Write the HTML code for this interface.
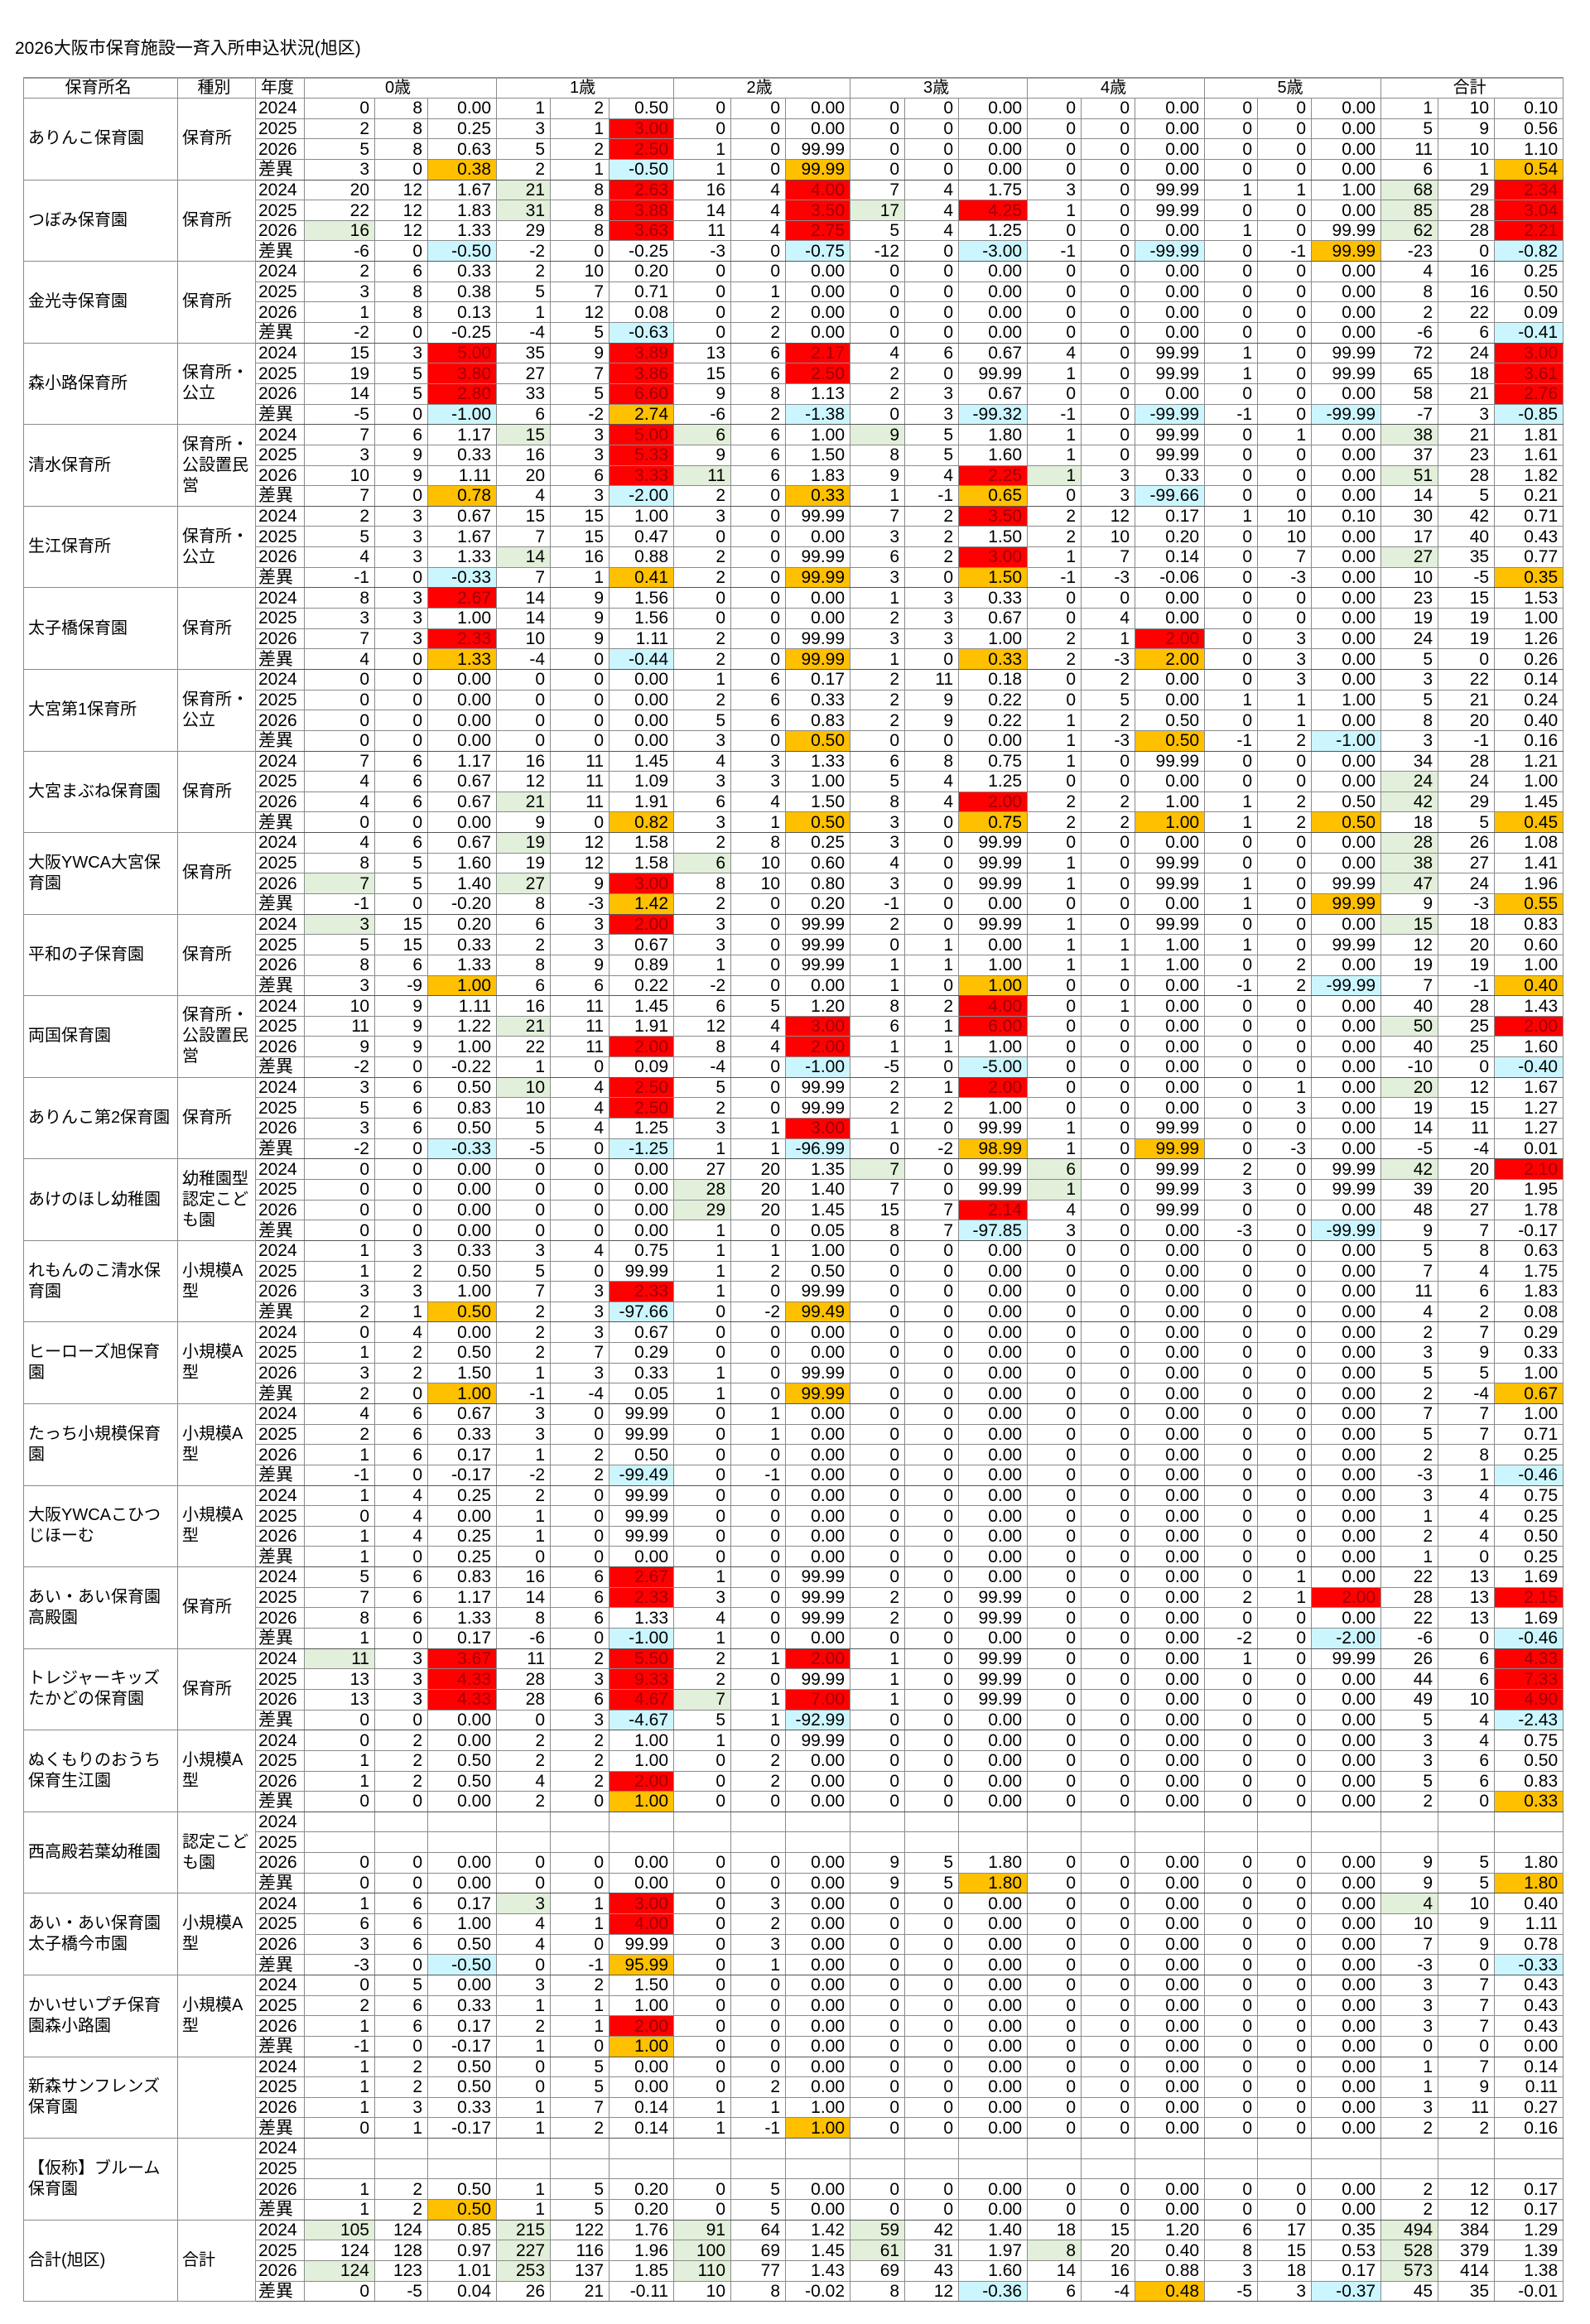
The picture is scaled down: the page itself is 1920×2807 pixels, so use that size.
<!DOCTYPE html>
<html><head><meta charset="utf-8">
<style>
html,body{margin:0;padding:0;background:#fff;}
body{width:1920px;height:2807px;position:relative;overflow:hidden;font-family:"Liberation Sans Narrow","Liberation Sans","Noto Sans CJK JP",sans-serif;}
.title{position:absolute;left:18px;top:42px;font-size:21px;font-family:"Liberation Sans","Noto Sans CJK JP",sans-serif;color:#000;}
table{position:absolute;left:28px;top:93px;border-collapse:collapse;table-layout:fixed;width:1859px;}
td{border:1px solid #8a8a8a;padding:0 6px 0 0;text-align:right;font-size:21px;line-height:21px;height:23.65px;white-space:nowrap;overflow:hidden;color:#000;}
tr.h td{text-align:center;height:23px;font-family:"Liberation Sans","Noto Sans CJK JP",sans-serif;font-size:20px;border-top:2px solid #999;}
td.n{text-align:left;padding-left:5px;white-space:normal;font-family:"Liberation Sans","Noto Sans CJK JP",sans-serif;font-size:20px;line-height:25px;vertical-align:middle;}
td.k{text-align:left;padding-left:5px;padding-right:8px;white-space:normal;font-family:"Liberation Sans","Noto Sans CJK JP",sans-serif;font-size:20px;line-height:25px;vertical-align:middle;}
td.yr{text-align:left;padding-left:3px;}
tr.e td{border-bottom:1px solid #555;}
.r{background:#ff0000;color:#9c0006;}
.y{background:#ffc000;}
.b{background:#ccf6ff;}
.g{background:#e2efda;}
</style></head><body>
<div class="title">2026大阪市保育施設一斉入所申込状況(旭区)</div>
<table>
<colgroup>
<col style="width:186px"><col style="width:94px"><col style="width:59px">
<col style="width:85px"><col style="width:64px"><col style="width:83px">
<col style="width:65px"><col style="width:71px"><col style="width:78px">
<col style="width:69px"><col style="width:66px"><col style="width:78px">
<col style="width:66px"><col style="width:65px"><col style="width:83px">
<col style="width:65px"><col style="width:65px"><col style="width:84px">
<col style="width:64px"><col style="width:65px"><col style="width:84px">
<col style="width:69px"><col style="width:68px"><col style="width:83px">
</colgroup>
<tr class="h"><td>保育所名</td><td>種別</td><td>年度</td><td colspan="3">0歳</td><td colspan="3">1歳</td><td colspan="3">2歳</td><td colspan="3">3歳</td><td colspan="3">4歳</td><td colspan="3">5歳</td><td colspan="3">合計</td></tr>

<tr><td class="n" rowspan="4">ありんこ保育園</td><td class="k" rowspan="4">保育所</td><td class="yr">2024</td><td>0</td><td>8</td><td>0.00</td><td>1</td><td>2</td><td>0.50</td><td>0</td><td>0</td><td>0.00</td><td>0</td><td>0</td><td>0.00</td><td>0</td><td>0</td><td>0.00</td><td>0</td><td>0</td><td>0.00</td><td>1</td><td>10</td><td>0.10</td></tr>
<tr><td class="yr">2025</td><td>2</td><td>8</td><td>0.25</td><td>3</td><td>1</td><td class="r">3.00</td><td>0</td><td>0</td><td>0.00</td><td>0</td><td>0</td><td>0.00</td><td>0</td><td>0</td><td>0.00</td><td>0</td><td>0</td><td>0.00</td><td>5</td><td>9</td><td>0.56</td></tr>
<tr><td class="yr">2026</td><td>5</td><td>8</td><td>0.63</td><td>5</td><td>2</td><td class="r">2.50</td><td>1</td><td>0</td><td>99.99</td><td>0</td><td>0</td><td>0.00</td><td>0</td><td>0</td><td>0.00</td><td>0</td><td>0</td><td>0.00</td><td>11</td><td>10</td><td>1.10</td></tr>
<tr class="e"><td class="yr">差異</td><td>3</td><td>0</td><td class="y">0.38</td><td>2</td><td>1</td><td class="b">-0.50</td><td>1</td><td>0</td><td class="y">99.99</td><td>0</td><td>0</td><td>0.00</td><td>0</td><td>0</td><td>0.00</td><td>0</td><td>0</td><td>0.00</td><td>6</td><td>1</td><td class="y">0.54</td></tr>

<tr><td class="n" rowspan="4">つぼみ保育園</td><td class="k" rowspan="4">保育所</td><td class="yr">2024</td><td>20</td><td>12</td><td>1.67</td><td class="g">21</td><td>8</td><td class="r">2.63</td><td>16</td><td>4</td><td class="r">4.00</td><td>7</td><td>4</td><td>1.75</td><td>3</td><td>0</td><td>99.99</td><td>1</td><td>1</td><td>1.00</td><td class="g">68</td><td>29</td><td class="r">2.34</td></tr>
<tr><td class="yr">2025</td><td>22</td><td>12</td><td>1.83</td><td class="g">31</td><td>8</td><td class="r">3.88</td><td>14</td><td>4</td><td class="r">3.50</td><td class="g">17</td><td>4</td><td class="r">4.25</td><td>1</td><td>0</td><td>99.99</td><td>0</td><td>0</td><td>0.00</td><td class="g">85</td><td>28</td><td class="r">3.04</td></tr>
<tr><td class="yr">2026</td><td class="g">16</td><td>12</td><td>1.33</td><td>29</td><td>8</td><td class="r">3.63</td><td>11</td><td>4</td><td class="r">2.75</td><td>5</td><td>4</td><td>1.25</td><td>0</td><td>0</td><td>0.00</td><td>1</td><td>0</td><td>99.99</td><td class="g">62</td><td>28</td><td class="r">2.21</td></tr>
<tr class="e"><td class="yr">差異</td><td>-6</td><td>0</td><td class="b">-0.50</td><td>-2</td><td>0</td><td>-0.25</td><td>-3</td><td>0</td><td class="b">-0.75</td><td>-12</td><td>0</td><td class="b">-3.00</td><td>-1</td><td>0</td><td class="b">-99.99</td><td>0</td><td>-1</td><td class="y">99.99</td><td>-23</td><td>0</td><td class="b">-0.82</td></tr>

<tr><td class="n" rowspan="4">金光寺保育園</td><td class="k" rowspan="4">保育所</td><td class="yr">2024</td><td>2</td><td>6</td><td>0.33</td><td>2</td><td>10</td><td>0.20</td><td>0</td><td>0</td><td>0.00</td><td>0</td><td>0</td><td>0.00</td><td>0</td><td>0</td><td>0.00</td><td>0</td><td>0</td><td>0.00</td><td>4</td><td>16</td><td>0.25</td></tr>
<tr><td class="yr">2025</td><td>3</td><td>8</td><td>0.38</td><td>5</td><td>7</td><td>0.71</td><td>0</td><td>1</td><td>0.00</td><td>0</td><td>0</td><td>0.00</td><td>0</td><td>0</td><td>0.00</td><td>0</td><td>0</td><td>0.00</td><td>8</td><td>16</td><td>0.50</td></tr>
<tr><td class="yr">2026</td><td>1</td><td>8</td><td>0.13</td><td>1</td><td>12</td><td>0.08</td><td>0</td><td>2</td><td>0.00</td><td>0</td><td>0</td><td>0.00</td><td>0</td><td>0</td><td>0.00</td><td>0</td><td>0</td><td>0.00</td><td>2</td><td>22</td><td>0.09</td></tr>
<tr class="e"><td class="yr">差異</td><td>-2</td><td>0</td><td>-0.25</td><td>-4</td><td>5</td><td class="b">-0.63</td><td>0</td><td>2</td><td>0.00</td><td>0</td><td>0</td><td>0.00</td><td>0</td><td>0</td><td>0.00</td><td>0</td><td>0</td><td>0.00</td><td>-6</td><td>6</td><td class="b">-0.41</td></tr>

<tr><td class="n" rowspan="4">森小路保育所</td><td class="k" rowspan="4">保育所・公立</td><td class="yr">2024</td><td>15</td><td>3</td><td class="r">5.00</td><td>35</td><td>9</td><td class="r">3.89</td><td>13</td><td>6</td><td class="r">2.17</td><td>4</td><td>6</td><td>0.67</td><td>4</td><td>0</td><td>99.99</td><td>1</td><td>0</td><td>99.99</td><td>72</td><td>24</td><td class="r">3.00</td></tr>
<tr><td class="yr">2025</td><td>19</td><td>5</td><td class="r">3.80</td><td>27</td><td>7</td><td class="r">3.86</td><td>15</td><td>6</td><td class="r">2.50</td><td>2</td><td>0</td><td>99.99</td><td>1</td><td>0</td><td>99.99</td><td>1</td><td>0</td><td>99.99</td><td>65</td><td>18</td><td class="r">3.61</td></tr>
<tr><td class="yr">2026</td><td>14</td><td>5</td><td class="r">2.80</td><td>33</td><td>5</td><td class="r">6.60</td><td>9</td><td>8</td><td>1.13</td><td>2</td><td>3</td><td>0.67</td><td>0</td><td>0</td><td>0.00</td><td>0</td><td>0</td><td>0.00</td><td>58</td><td>21</td><td class="r">2.76</td></tr>
<tr class="e"><td class="yr">差異</td><td>-5</td><td>0</td><td class="b">-1.00</td><td>6</td><td>-2</td><td class="y">2.74</td><td>-6</td><td>2</td><td class="b">-1.38</td><td>0</td><td>3</td><td class="b">-99.32</td><td>-1</td><td>0</td><td class="b">-99.99</td><td>-1</td><td>0</td><td class="b">-99.99</td><td>-7</td><td>3</td><td class="b">-0.85</td></tr>

<tr><td class="n" rowspan="4">清水保育所</td><td class="k" rowspan="4">保育所・公設置民営</td><td class="yr">2024</td><td>7</td><td>6</td><td>1.17</td><td class="g">15</td><td>3</td><td class="r">5.00</td><td class="g">6</td><td>6</td><td>1.00</td><td class="g">9</td><td>5</td><td>1.80</td><td>1</td><td>0</td><td>99.99</td><td>0</td><td>1</td><td>0.00</td><td class="g">38</td><td>21</td><td>1.81</td></tr>
<tr><td class="yr">2025</td><td>3</td><td>9</td><td>0.33</td><td>16</td><td>3</td><td class="r">5.33</td><td>9</td><td>6</td><td>1.50</td><td>8</td><td>5</td><td>1.60</td><td>1</td><td>0</td><td>99.99</td><td>0</td><td>0</td><td>0.00</td><td>37</td><td>23</td><td>1.61</td></tr>
<tr><td class="yr">2026</td><td>10</td><td>9</td><td>1.11</td><td>20</td><td>6</td><td class="r">3.33</td><td class="g">11</td><td>6</td><td>1.83</td><td>9</td><td>4</td><td class="r">2.25</td><td class="g">1</td><td>3</td><td>0.33</td><td>0</td><td>0</td><td>0.00</td><td class="g">51</td><td>28</td><td>1.82</td></tr>
<tr class="e"><td class="yr">差異</td><td>7</td><td>0</td><td class="y">0.78</td><td>4</td><td>3</td><td class="b">-2.00</td><td>2</td><td>0</td><td class="y">0.33</td><td>1</td><td>-1</td><td class="y">0.65</td><td>0</td><td>3</td><td class="b">-99.66</td><td>0</td><td>0</td><td>0.00</td><td>14</td><td>5</td><td>0.21</td></tr>

<tr><td class="n" rowspan="4">生江保育所</td><td class="k" rowspan="4">保育所・公立</td><td class="yr">2024</td><td>2</td><td>3</td><td>0.67</td><td>15</td><td>15</td><td>1.00</td><td>3</td><td>0</td><td>99.99</td><td>7</td><td>2</td><td class="r">3.50</td><td>2</td><td>12</td><td>0.17</td><td>1</td><td>10</td><td>0.10</td><td>30</td><td>42</td><td>0.71</td></tr>
<tr><td class="yr">2025</td><td>5</td><td>3</td><td>1.67</td><td>7</td><td>15</td><td>0.47</td><td>0</td><td>0</td><td>0.00</td><td>3</td><td>2</td><td>1.50</td><td>2</td><td>10</td><td>0.20</td><td>0</td><td>10</td><td>0.00</td><td>17</td><td>40</td><td>0.43</td></tr>
<tr><td class="yr">2026</td><td>4</td><td>3</td><td>1.33</td><td class="g">14</td><td>16</td><td>0.88</td><td>2</td><td>0</td><td>99.99</td><td>6</td><td>2</td><td class="r">3.00</td><td>1</td><td>7</td><td>0.14</td><td>0</td><td>7</td><td>0.00</td><td class="g">27</td><td>35</td><td>0.77</td></tr>
<tr class="e"><td class="yr">差異</td><td>-1</td><td>0</td><td class="b">-0.33</td><td>7</td><td>1</td><td class="y">0.41</td><td>2</td><td>0</td><td class="y">99.99</td><td>3</td><td>0</td><td class="y">1.50</td><td>-1</td><td>-3</td><td>-0.06</td><td>0</td><td>-3</td><td>0.00</td><td>10</td><td>-5</td><td class="y">0.35</td></tr>

<tr><td class="n" rowspan="4">太子橋保育園</td><td class="k" rowspan="4">保育所</td><td class="yr">2024</td><td>8</td><td>3</td><td class="r">2.67</td><td>14</td><td>9</td><td>1.56</td><td>0</td><td>0</td><td>0.00</td><td>1</td><td>3</td><td>0.33</td><td>0</td><td>0</td><td>0.00</td><td>0</td><td>0</td><td>0.00</td><td>23</td><td>15</td><td>1.53</td></tr>
<tr><td class="yr">2025</td><td>3</td><td>3</td><td>1.00</td><td>14</td><td>9</td><td>1.56</td><td>0</td><td>0</td><td>0.00</td><td>2</td><td>3</td><td>0.67</td><td>0</td><td>4</td><td>0.00</td><td>0</td><td>0</td><td>0.00</td><td>19</td><td>19</td><td>1.00</td></tr>
<tr><td class="yr">2026</td><td>7</td><td>3</td><td class="r">2.33</td><td>10</td><td>9</td><td>1.11</td><td>2</td><td>0</td><td>99.99</td><td>3</td><td>3</td><td>1.00</td><td>2</td><td>1</td><td class="r">2.00</td><td>0</td><td>3</td><td>0.00</td><td>24</td><td>19</td><td>1.26</td></tr>
<tr class="e"><td class="yr">差異</td><td>4</td><td>0</td><td class="y">1.33</td><td>-4</td><td>0</td><td class="b">-0.44</td><td>2</td><td>0</td><td class="y">99.99</td><td>1</td><td>0</td><td class="y">0.33</td><td>2</td><td>-3</td><td class="y">2.00</td><td>0</td><td>3</td><td>0.00</td><td>5</td><td>0</td><td>0.26</td></tr>

<tr><td class="n" rowspan="4">大宮第1保育所</td><td class="k" rowspan="4">保育所・公立</td><td class="yr">2024</td><td>0</td><td>0</td><td>0.00</td><td>0</td><td>0</td><td>0.00</td><td>1</td><td>6</td><td>0.17</td><td>2</td><td>11</td><td>0.18</td><td>0</td><td>2</td><td>0.00</td><td>0</td><td>3</td><td>0.00</td><td>3</td><td>22</td><td>0.14</td></tr>
<tr><td class="yr">2025</td><td>0</td><td>0</td><td>0.00</td><td>0</td><td>0</td><td>0.00</td><td>2</td><td>6</td><td>0.33</td><td>2</td><td>9</td><td>0.22</td><td>0</td><td>5</td><td>0.00</td><td>1</td><td>1</td><td>1.00</td><td>5</td><td>21</td><td>0.24</td></tr>
<tr><td class="yr">2026</td><td>0</td><td>0</td><td>0.00</td><td>0</td><td>0</td><td>0.00</td><td>5</td><td>6</td><td>0.83</td><td>2</td><td>9</td><td>0.22</td><td>1</td><td>2</td><td>0.50</td><td>0</td><td>1</td><td>0.00</td><td>8</td><td>20</td><td>0.40</td></tr>
<tr class="e"><td class="yr">差異</td><td>0</td><td>0</td><td>0.00</td><td>0</td><td>0</td><td>0.00</td><td>3</td><td>0</td><td class="y">0.50</td><td>0</td><td>0</td><td>0.00</td><td>1</td><td>-3</td><td class="y">0.50</td><td>-1</td><td>2</td><td class="b">-1.00</td><td>3</td><td>-1</td><td>0.16</td></tr>

<tr><td class="n" rowspan="4">大宮まぶね保育園</td><td class="k" rowspan="4">保育所</td><td class="yr">2024</td><td>7</td><td>6</td><td>1.17</td><td>16</td><td>11</td><td>1.45</td><td>4</td><td>3</td><td>1.33</td><td>6</td><td>8</td><td>0.75</td><td>1</td><td>0</td><td>99.99</td><td>0</td><td>0</td><td>0.00</td><td>34</td><td>28</td><td>1.21</td></tr>
<tr><td class="yr">2025</td><td>4</td><td>6</td><td>0.67</td><td>12</td><td>11</td><td>1.09</td><td>3</td><td>3</td><td>1.00</td><td>5</td><td>4</td><td>1.25</td><td>0</td><td>0</td><td>0.00</td><td>0</td><td>0</td><td>0.00</td><td class="g">24</td><td>24</td><td>1.00</td></tr>
<tr><td class="yr">2026</td><td>4</td><td>6</td><td>0.67</td><td class="g">21</td><td>11</td><td>1.91</td><td>6</td><td>4</td><td>1.50</td><td>8</td><td>4</td><td class="r">2.00</td><td>2</td><td>2</td><td>1.00</td><td>1</td><td>2</td><td>0.50</td><td class="g">42</td><td>29</td><td>1.45</td></tr>
<tr class="e"><td class="yr">差異</td><td>0</td><td>0</td><td>0.00</td><td>9</td><td>0</td><td class="y">0.82</td><td>3</td><td>1</td><td class="y">0.50</td><td>3</td><td>0</td><td class="y">0.75</td><td>2</td><td>2</td><td class="y">1.00</td><td>1</td><td>2</td><td class="y">0.50</td><td>18</td><td>5</td><td class="y">0.45</td></tr>

<tr><td class="n" rowspan="4">大阪YWCA大宮保育園</td><td class="k" rowspan="4">保育所</td><td class="yr">2024</td><td>4</td><td>6</td><td>0.67</td><td class="g">19</td><td>12</td><td>1.58</td><td>2</td><td>8</td><td>0.25</td><td>3</td><td>0</td><td>99.99</td><td>0</td><td>0</td><td>0.00</td><td>0</td><td>0</td><td>0.00</td><td class="g">28</td><td>26</td><td>1.08</td></tr>
<tr><td class="yr">2025</td><td>8</td><td>5</td><td>1.60</td><td>19</td><td>12</td><td>1.58</td><td class="g">6</td><td>10</td><td>0.60</td><td>4</td><td>0</td><td>99.99</td><td>1</td><td>0</td><td>99.99</td><td>0</td><td>0</td><td>0.00</td><td class="g">38</td><td>27</td><td>1.41</td></tr>
<tr><td class="yr">2026</td><td class="g">7</td><td>5</td><td>1.40</td><td class="g">27</td><td>9</td><td class="r">3.00</td><td>8</td><td>10</td><td>0.80</td><td>3</td><td>0</td><td>99.99</td><td>1</td><td>0</td><td>99.99</td><td>1</td><td>0</td><td>99.99</td><td class="g">47</td><td>24</td><td>1.96</td></tr>
<tr class="e"><td class="yr">差異</td><td>-1</td><td>0</td><td>-0.20</td><td>8</td><td>-3</td><td class="y">1.42</td><td>2</td><td>0</td><td>0.20</td><td>-1</td><td>0</td><td>0.00</td><td>0</td><td>0</td><td>0.00</td><td>1</td><td>0</td><td class="y">99.99</td><td>9</td><td>-3</td><td class="y">0.55</td></tr>

<tr><td class="n" rowspan="4">平和の子保育園</td><td class="k" rowspan="4">保育所</td><td class="yr">2024</td><td class="g">3</td><td>15</td><td>0.20</td><td>6</td><td>3</td><td class="r">2.00</td><td>3</td><td>0</td><td>99.99</td><td>2</td><td>0</td><td>99.99</td><td>1</td><td>0</td><td>99.99</td><td>0</td><td>0</td><td>0.00</td><td class="g">15</td><td>18</td><td>0.83</td></tr>
<tr><td class="yr">2025</td><td>5</td><td>15</td><td>0.33</td><td>2</td><td>3</td><td>0.67</td><td>3</td><td>0</td><td>99.99</td><td>0</td><td>1</td><td>0.00</td><td>1</td><td>1</td><td>1.00</td><td>1</td><td>0</td><td>99.99</td><td>12</td><td>20</td><td>0.60</td></tr>
<tr><td class="yr">2026</td><td>8</td><td>6</td><td>1.33</td><td>8</td><td>9</td><td>0.89</td><td>1</td><td>0</td><td>99.99</td><td>1</td><td>1</td><td>1.00</td><td>1</td><td>1</td><td>1.00</td><td>0</td><td>2</td><td>0.00</td><td>19</td><td>19</td><td>1.00</td></tr>
<tr class="e"><td class="yr">差異</td><td>3</td><td>-9</td><td class="y">1.00</td><td>6</td><td>6</td><td>0.22</td><td>-2</td><td>0</td><td>0.00</td><td>1</td><td>0</td><td class="y">1.00</td><td>0</td><td>0</td><td>0.00</td><td>-1</td><td>2</td><td class="b">-99.99</td><td>7</td><td>-1</td><td class="y">0.40</td></tr>

<tr><td class="n" rowspan="4">両国保育園</td><td class="k" rowspan="4">保育所・公設置民営</td><td class="yr">2024</td><td>10</td><td>9</td><td>1.11</td><td>16</td><td>11</td><td>1.45</td><td>6</td><td>5</td><td>1.20</td><td>8</td><td>2</td><td class="r">4.00</td><td>0</td><td>1</td><td>0.00</td><td>0</td><td>0</td><td>0.00</td><td>40</td><td>28</td><td>1.43</td></tr>
<tr><td class="yr">2025</td><td>11</td><td>9</td><td>1.22</td><td class="g">21</td><td>11</td><td>1.91</td><td>12</td><td>4</td><td class="r">3.00</td><td>6</td><td>1</td><td class="r">6.00</td><td>0</td><td>0</td><td>0.00</td><td>0</td><td>0</td><td>0.00</td><td class="g">50</td><td>25</td><td class="r">2.00</td></tr>
<tr><td class="yr">2026</td><td>9</td><td>9</td><td>1.00</td><td>22</td><td>11</td><td class="r">2.00</td><td>8</td><td>4</td><td class="r">2.00</td><td>1</td><td>1</td><td>1.00</td><td>0</td><td>0</td><td>0.00</td><td>0</td><td>0</td><td>0.00</td><td>40</td><td>25</td><td>1.60</td></tr>
<tr class="e"><td class="yr">差異</td><td>-2</td><td>0</td><td>-0.22</td><td>1</td><td>0</td><td>0.09</td><td>-4</td><td>0</td><td class="b">-1.00</td><td>-5</td><td>0</td><td class="b">-5.00</td><td>0</td><td>0</td><td>0.00</td><td>0</td><td>0</td><td>0.00</td><td>-10</td><td>0</td><td class="b">-0.40</td></tr>

<tr><td class="n" rowspan="4">ありんこ第2保育園</td><td class="k" rowspan="4">保育所</td><td class="yr">2024</td><td>3</td><td>6</td><td>0.50</td><td class="g">10</td><td>4</td><td class="r">2.50</td><td>5</td><td>0</td><td>99.99</td><td>2</td><td>1</td><td class="r">2.00</td><td>0</td><td>0</td><td>0.00</td><td>0</td><td>1</td><td>0.00</td><td class="g">20</td><td>12</td><td>1.67</td></tr>
<tr><td class="yr">2025</td><td>5</td><td>6</td><td>0.83</td><td>10</td><td>4</td><td class="r">2.50</td><td>2</td><td>0</td><td>99.99</td><td>2</td><td>2</td><td>1.00</td><td>0</td><td>0</td><td>0.00</td><td>0</td><td>3</td><td>0.00</td><td>19</td><td>15</td><td>1.27</td></tr>
<tr><td class="yr">2026</td><td>3</td><td>6</td><td>0.50</td><td>5</td><td>4</td><td>1.25</td><td>3</td><td>1</td><td class="r">3.00</td><td>1</td><td>0</td><td>99.99</td><td>1</td><td>0</td><td>99.99</td><td>0</td><td>0</td><td>0.00</td><td>14</td><td>11</td><td>1.27</td></tr>
<tr class="e"><td class="yr">差異</td><td>-2</td><td>0</td><td class="b">-0.33</td><td>-5</td><td>0</td><td class="b">-1.25</td><td>1</td><td>1</td><td class="b">-96.99</td><td>0</td><td>-2</td><td class="y">98.99</td><td>1</td><td>0</td><td class="y">99.99</td><td>0</td><td>-3</td><td>0.00</td><td>-5</td><td>-4</td><td>0.01</td></tr>

<tr><td class="n" rowspan="4">あけのほし幼稚園</td><td class="k" rowspan="4">幼稚園型認定こども園</td><td class="yr">2024</td><td>0</td><td>0</td><td>0.00</td><td>0</td><td>0</td><td>0.00</td><td>27</td><td>20</td><td>1.35</td><td class="g">7</td><td>0</td><td>99.99</td><td class="g">6</td><td>0</td><td>99.99</td><td>2</td><td>0</td><td>99.99</td><td class="g">42</td><td>20</td><td class="r">2.10</td></tr>
<tr><td class="yr">2025</td><td>0</td><td>0</td><td>0.00</td><td>0</td><td>0</td><td>0.00</td><td class="g">28</td><td>20</td><td>1.40</td><td>7</td><td>0</td><td>99.99</td><td class="g">1</td><td>0</td><td>99.99</td><td>3</td><td>0</td><td>99.99</td><td>39</td><td>20</td><td>1.95</td></tr>
<tr><td class="yr">2026</td><td>0</td><td>0</td><td>0.00</td><td>0</td><td>0</td><td>0.00</td><td class="g">29</td><td>20</td><td>1.45</td><td>15</td><td>7</td><td class="r">2.14</td><td>4</td><td>0</td><td>99.99</td><td>0</td><td>0</td><td>0.00</td><td>48</td><td>27</td><td>1.78</td></tr>
<tr class="e"><td class="yr">差異</td><td>0</td><td>0</td><td>0.00</td><td>0</td><td>0</td><td>0.00</td><td>1</td><td>0</td><td>0.05</td><td>8</td><td>7</td><td class="b">-97.85</td><td>3</td><td>0</td><td>0.00</td><td>-3</td><td>0</td><td class="b">-99.99</td><td>9</td><td>7</td><td>-0.17</td></tr>

<tr><td class="n" rowspan="4">れもんのこ清水保育園</td><td class="k" rowspan="4">小規模A型</td><td class="yr">2024</td><td>1</td><td>3</td><td>0.33</td><td>3</td><td>4</td><td>0.75</td><td>1</td><td>1</td><td>1.00</td><td>0</td><td>0</td><td>0.00</td><td>0</td><td>0</td><td>0.00</td><td>0</td><td>0</td><td>0.00</td><td>5</td><td>8</td><td>0.63</td></tr>
<tr><td class="yr">2025</td><td>1</td><td>2</td><td>0.50</td><td>5</td><td>0</td><td>99.99</td><td>1</td><td>2</td><td>0.50</td><td>0</td><td>0</td><td>0.00</td><td>0</td><td>0</td><td>0.00</td><td>0</td><td>0</td><td>0.00</td><td>7</td><td>4</td><td>1.75</td></tr>
<tr><td class="yr">2026</td><td>3</td><td>3</td><td>1.00</td><td>7</td><td>3</td><td class="r">2.33</td><td>1</td><td>0</td><td>99.99</td><td>0</td><td>0</td><td>0.00</td><td>0</td><td>0</td><td>0.00</td><td>0</td><td>0</td><td>0.00</td><td>11</td><td>6</td><td>1.83</td></tr>
<tr class="e"><td class="yr">差異</td><td>2</td><td>1</td><td class="y">0.50</td><td>2</td><td>3</td><td class="b">-97.66</td><td>0</td><td>-2</td><td class="y">99.49</td><td>0</td><td>0</td><td>0.00</td><td>0</td><td>0</td><td>0.00</td><td>0</td><td>0</td><td>0.00</td><td>4</td><td>2</td><td>0.08</td></tr>

<tr><td class="n" rowspan="4">ヒーローズ旭保育園</td><td class="k" rowspan="4">小規模A型</td><td class="yr">2024</td><td>0</td><td>4</td><td>0.00</td><td>2</td><td>3</td><td>0.67</td><td>0</td><td>0</td><td>0.00</td><td>0</td><td>0</td><td>0.00</td><td>0</td><td>0</td><td>0.00</td><td>0</td><td>0</td><td>0.00</td><td>2</td><td>7</td><td>0.29</td></tr>
<tr><td class="yr">2025</td><td>1</td><td>2</td><td>0.50</td><td>2</td><td>7</td><td>0.29</td><td>0</td><td>0</td><td>0.00</td><td>0</td><td>0</td><td>0.00</td><td>0</td><td>0</td><td>0.00</td><td>0</td><td>0</td><td>0.00</td><td>3</td><td>9</td><td>0.33</td></tr>
<tr><td class="yr">2026</td><td>3</td><td>2</td><td>1.50</td><td>1</td><td>3</td><td>0.33</td><td>1</td><td>0</td><td>99.99</td><td>0</td><td>0</td><td>0.00</td><td>0</td><td>0</td><td>0.00</td><td>0</td><td>0</td><td>0.00</td><td>5</td><td>5</td><td>1.00</td></tr>
<tr class="e"><td class="yr">差異</td><td>2</td><td>0</td><td class="y">1.00</td><td>-1</td><td>-4</td><td>0.05</td><td>1</td><td>0</td><td class="y">99.99</td><td>0</td><td>0</td><td>0.00</td><td>0</td><td>0</td><td>0.00</td><td>0</td><td>0</td><td>0.00</td><td>2</td><td>-4</td><td class="y">0.67</td></tr>

<tr><td class="n" rowspan="4">たっち小規模保育園</td><td class="k" rowspan="4">小規模A型</td><td class="yr">2024</td><td>4</td><td>6</td><td>0.67</td><td>3</td><td>0</td><td>99.99</td><td>0</td><td>1</td><td>0.00</td><td>0</td><td>0</td><td>0.00</td><td>0</td><td>0</td><td>0.00</td><td>0</td><td>0</td><td>0.00</td><td>7</td><td>7</td><td>1.00</td></tr>
<tr><td class="yr">2025</td><td>2</td><td>6</td><td>0.33</td><td>3</td><td>0</td><td>99.99</td><td>0</td><td>1</td><td>0.00</td><td>0</td><td>0</td><td>0.00</td><td>0</td><td>0</td><td>0.00</td><td>0</td><td>0</td><td>0.00</td><td>5</td><td>7</td><td>0.71</td></tr>
<tr><td class="yr">2026</td><td>1</td><td>6</td><td>0.17</td><td>1</td><td>2</td><td>0.50</td><td>0</td><td>0</td><td>0.00</td><td>0</td><td>0</td><td>0.00</td><td>0</td><td>0</td><td>0.00</td><td>0</td><td>0</td><td>0.00</td><td>2</td><td>8</td><td>0.25</td></tr>
<tr class="e"><td class="yr">差異</td><td>-1</td><td>0</td><td>-0.17</td><td>-2</td><td>2</td><td class="b">-99.49</td><td>0</td><td>-1</td><td>0.00</td><td>0</td><td>0</td><td>0.00</td><td>0</td><td>0</td><td>0.00</td><td>0</td><td>0</td><td>0.00</td><td>-3</td><td>1</td><td class="b">-0.46</td></tr>

<tr><td class="n" rowspan="4">大阪YWCAこひつじほーむ</td><td class="k" rowspan="4">小規模A型</td><td class="yr">2024</td><td>1</td><td>4</td><td>0.25</td><td>2</td><td>0</td><td>99.99</td><td>0</td><td>0</td><td>0.00</td><td>0</td><td>0</td><td>0.00</td><td>0</td><td>0</td><td>0.00</td><td>0</td><td>0</td><td>0.00</td><td>3</td><td>4</td><td>0.75</td></tr>
<tr><td class="yr">2025</td><td>0</td><td>4</td><td>0.00</td><td>1</td><td>0</td><td>99.99</td><td>0</td><td>0</td><td>0.00</td><td>0</td><td>0</td><td>0.00</td><td>0</td><td>0</td><td>0.00</td><td>0</td><td>0</td><td>0.00</td><td>1</td><td>4</td><td>0.25</td></tr>
<tr><td class="yr">2026</td><td>1</td><td>4</td><td>0.25</td><td>1</td><td>0</td><td>99.99</td><td>0</td><td>0</td><td>0.00</td><td>0</td><td>0</td><td>0.00</td><td>0</td><td>0</td><td>0.00</td><td>0</td><td>0</td><td>0.00</td><td>2</td><td>4</td><td>0.50</td></tr>
<tr class="e"><td class="yr">差異</td><td>1</td><td>0</td><td>0.25</td><td>0</td><td>0</td><td>0.00</td><td>0</td><td>0</td><td>0.00</td><td>0</td><td>0</td><td>0.00</td><td>0</td><td>0</td><td>0.00</td><td>0</td><td>0</td><td>0.00</td><td>1</td><td>0</td><td>0.25</td></tr>

<tr><td class="n" rowspan="4">あい・あい保育園高殿園</td><td class="k" rowspan="4">保育所</td><td class="yr">2024</td><td>5</td><td>6</td><td>0.83</td><td>16</td><td>6</td><td class="r">2.67</td><td>1</td><td>0</td><td>99.99</td><td>0</td><td>0</td><td>0.00</td><td>0</td><td>0</td><td>0.00</td><td>0</td><td>1</td><td>0.00</td><td>22</td><td>13</td><td>1.69</td></tr>
<tr><td class="yr">2025</td><td>7</td><td>6</td><td>1.17</td><td>14</td><td>6</td><td class="r">2.33</td><td>3</td><td>0</td><td>99.99</td><td>2</td><td>0</td><td>99.99</td><td>0</td><td>0</td><td>0.00</td><td>2</td><td>1</td><td class="r">2.00</td><td>28</td><td>13</td><td class="r">2.15</td></tr>
<tr><td class="yr">2026</td><td>8</td><td>6</td><td>1.33</td><td>8</td><td>6</td><td>1.33</td><td>4</td><td>0</td><td>99.99</td><td>2</td><td>0</td><td>99.99</td><td>0</td><td>0</td><td>0.00</td><td>0</td><td>0</td><td>0.00</td><td>22</td><td>13</td><td>1.69</td></tr>
<tr class="e"><td class="yr">差異</td><td>1</td><td>0</td><td>0.17</td><td>-6</td><td>0</td><td class="b">-1.00</td><td>1</td><td>0</td><td>0.00</td><td>0</td><td>0</td><td>0.00</td><td>0</td><td>0</td><td>0.00</td><td>-2</td><td>0</td><td class="b">-2.00</td><td>-6</td><td>0</td><td class="b">-0.46</td></tr>

<tr><td class="n" rowspan="4">トレジャーキッズたかどの保育園</td><td class="k" rowspan="4">保育所</td><td class="yr">2024</td><td class="g">11</td><td>3</td><td class="r">3.67</td><td>11</td><td>2</td><td class="r">5.50</td><td>2</td><td>1</td><td class="r">2.00</td><td>1</td><td>0</td><td>99.99</td><td>0</td><td>0</td><td>0.00</td><td>1</td><td>0</td><td>99.99</td><td>26</td><td>6</td><td class="r">4.33</td></tr>
<tr><td class="yr">2025</td><td>13</td><td>3</td><td class="r">4.33</td><td>28</td><td>3</td><td class="r">9.33</td><td>2</td><td>0</td><td>99.99</td><td>1</td><td>0</td><td>99.99</td><td>0</td><td>0</td><td>0.00</td><td>0</td><td>0</td><td>0.00</td><td>44</td><td>6</td><td class="r">7.33</td></tr>
<tr><td class="yr">2026</td><td>13</td><td>3</td><td class="r">4.33</td><td>28</td><td>6</td><td class="r">4.67</td><td class="g">7</td><td>1</td><td class="r">7.00</td><td>1</td><td>0</td><td>99.99</td><td>0</td><td>0</td><td>0.00</td><td>0</td><td>0</td><td>0.00</td><td>49</td><td>10</td><td class="r">4.90</td></tr>
<tr class="e"><td class="yr">差異</td><td>0</td><td>0</td><td>0.00</td><td>0</td><td>3</td><td class="b">-4.67</td><td>5</td><td>1</td><td class="b">-92.99</td><td>0</td><td>0</td><td>0.00</td><td>0</td><td>0</td><td>0.00</td><td>0</td><td>0</td><td>0.00</td><td>5</td><td>4</td><td class="b">-2.43</td></tr>

<tr><td class="n" rowspan="4">ぬくもりのおうち保育生江園</td><td class="k" rowspan="4">小規模A型</td><td class="yr">2024</td><td>0</td><td>2</td><td>0.00</td><td>2</td><td>2</td><td>1.00</td><td>1</td><td>0</td><td>99.99</td><td>0</td><td>0</td><td>0.00</td><td>0</td><td>0</td><td>0.00</td><td>0</td><td>0</td><td>0.00</td><td>3</td><td>4</td><td>0.75</td></tr>
<tr><td class="yr">2025</td><td>1</td><td>2</td><td>0.50</td><td>2</td><td>2</td><td>1.00</td><td>0</td><td>2</td><td>0.00</td><td>0</td><td>0</td><td>0.00</td><td>0</td><td>0</td><td>0.00</td><td>0</td><td>0</td><td>0.00</td><td>3</td><td>6</td><td>0.50</td></tr>
<tr><td class="yr">2026</td><td>1</td><td>2</td><td>0.50</td><td>4</td><td>2</td><td class="r">2.00</td><td>0</td><td>2</td><td>0.00</td><td>0</td><td>0</td><td>0.00</td><td>0</td><td>0</td><td>0.00</td><td>0</td><td>0</td><td>0.00</td><td>5</td><td>6</td><td>0.83</td></tr>
<tr class="e"><td class="yr">差異</td><td>0</td><td>0</td><td>0.00</td><td>2</td><td>0</td><td class="y">1.00</td><td>0</td><td>0</td><td>0.00</td><td>0</td><td>0</td><td>0.00</td><td>0</td><td>0</td><td>0.00</td><td>0</td><td>0</td><td>0.00</td><td>2</td><td>0</td><td class="y">0.33</td></tr>

<tr><td class="n" rowspan="4">西高殿若葉幼稚園</td><td class="k" rowspan="4">認定こども園</td><td class="yr">2024</td><td></td><td></td><td></td><td></td><td></td><td></td><td></td><td></td><td></td><td></td><td></td><td></td><td></td><td></td><td></td><td></td><td></td><td></td><td></td><td></td><td></td></tr>
<tr><td class="yr">2025</td><td></td><td></td><td></td><td></td><td></td><td></td><td></td><td></td><td></td><td></td><td></td><td></td><td></td><td></td><td></td><td></td><td></td><td></td><td></td><td></td><td></td></tr>
<tr><td class="yr">2026</td><td>0</td><td>0</td><td>0.00</td><td>0</td><td>0</td><td>0.00</td><td>0</td><td>0</td><td>0.00</td><td>9</td><td>5</td><td>1.80</td><td>0</td><td>0</td><td>0.00</td><td>0</td><td>0</td><td>0.00</td><td>9</td><td>5</td><td>1.80</td></tr>
<tr class="e"><td class="yr">差異</td><td>0</td><td>0</td><td>0.00</td><td>0</td><td>0</td><td>0.00</td><td>0</td><td>0</td><td>0.00</td><td>9</td><td>5</td><td class="y">1.80</td><td>0</td><td>0</td><td>0.00</td><td>0</td><td>0</td><td>0.00</td><td>9</td><td>5</td><td class="y">1.80</td></tr>

<tr><td class="n" rowspan="4">あい・あい保育園太子橋今市園</td><td class="k" rowspan="4">小規模A型</td><td class="yr">2024</td><td>1</td><td>6</td><td>0.17</td><td class="g">3</td><td>1</td><td class="r">3.00</td><td>0</td><td>3</td><td>0.00</td><td>0</td><td>0</td><td>0.00</td><td>0</td><td>0</td><td>0.00</td><td>0</td><td>0</td><td>0.00</td><td class="g">4</td><td>10</td><td>0.40</td></tr>
<tr><td class="yr">2025</td><td>6</td><td>6</td><td>1.00</td><td>4</td><td>1</td><td class="r">4.00</td><td>0</td><td>2</td><td>0.00</td><td>0</td><td>0</td><td>0.00</td><td>0</td><td>0</td><td>0.00</td><td>0</td><td>0</td><td>0.00</td><td>10</td><td>9</td><td>1.11</td></tr>
<tr><td class="yr">2026</td><td>3</td><td>6</td><td>0.50</td><td>4</td><td>0</td><td>99.99</td><td>0</td><td>3</td><td>0.00</td><td>0</td><td>0</td><td>0.00</td><td>0</td><td>0</td><td>0.00</td><td>0</td><td>0</td><td>0.00</td><td>7</td><td>9</td><td>0.78</td></tr>
<tr class="e"><td class="yr">差異</td><td>-3</td><td>0</td><td class="b">-0.50</td><td>0</td><td>-1</td><td class="y">95.99</td><td>0</td><td>1</td><td>0.00</td><td>0</td><td>0</td><td>0.00</td><td>0</td><td>0</td><td>0.00</td><td>0</td><td>0</td><td>0.00</td><td>-3</td><td>0</td><td class="b">-0.33</td></tr>

<tr><td class="n" rowspan="4">かいせいプチ保育園森小路園</td><td class="k" rowspan="4">小規模A型</td><td class="yr">2024</td><td>0</td><td>5</td><td>0.00</td><td>3</td><td>2</td><td>1.50</td><td>0</td><td>0</td><td>0.00</td><td>0</td><td>0</td><td>0.00</td><td>0</td><td>0</td><td>0.00</td><td>0</td><td>0</td><td>0.00</td><td>3</td><td>7</td><td>0.43</td></tr>
<tr><td class="yr">2025</td><td>2</td><td>6</td><td>0.33</td><td>1</td><td>1</td><td>1.00</td><td>0</td><td>0</td><td>0.00</td><td>0</td><td>0</td><td>0.00</td><td>0</td><td>0</td><td>0.00</td><td>0</td><td>0</td><td>0.00</td><td>3</td><td>7</td><td>0.43</td></tr>
<tr><td class="yr">2026</td><td>1</td><td>6</td><td>0.17</td><td>2</td><td>1</td><td class="r">2.00</td><td>0</td><td>0</td><td>0.00</td><td>0</td><td>0</td><td>0.00</td><td>0</td><td>0</td><td>0.00</td><td>0</td><td>0</td><td>0.00</td><td>3</td><td>7</td><td>0.43</td></tr>
<tr class="e"><td class="yr">差異</td><td>-1</td><td>0</td><td>-0.17</td><td>1</td><td>0</td><td class="y">1.00</td><td>0</td><td>0</td><td>0.00</td><td>0</td><td>0</td><td>0.00</td><td>0</td><td>0</td><td>0.00</td><td>0</td><td>0</td><td>0.00</td><td>0</td><td>0</td><td>0.00</td></tr>

<tr><td class="n" rowspan="4">新森サンフレンズ保育園</td><td class="k" rowspan="4"></td><td class="yr">2024</td><td>1</td><td>2</td><td>0.50</td><td>0</td><td>5</td><td>0.00</td><td>0</td><td>0</td><td>0.00</td><td>0</td><td>0</td><td>0.00</td><td>0</td><td>0</td><td>0.00</td><td>0</td><td>0</td><td>0.00</td><td>1</td><td>7</td><td>0.14</td></tr>
<tr><td class="yr">2025</td><td>1</td><td>2</td><td>0.50</td><td>0</td><td>5</td><td>0.00</td><td>0</td><td>2</td><td>0.00</td><td>0</td><td>0</td><td>0.00</td><td>0</td><td>0</td><td>0.00</td><td>0</td><td>0</td><td>0.00</td><td>1</td><td>9</td><td>0.11</td></tr>
<tr><td class="yr">2026</td><td>1</td><td>3</td><td>0.33</td><td>1</td><td>7</td><td>0.14</td><td>1</td><td>1</td><td>1.00</td><td>0</td><td>0</td><td>0.00</td><td>0</td><td>0</td><td>0.00</td><td>0</td><td>0</td><td>0.00</td><td>3</td><td>11</td><td>0.27</td></tr>
<tr class="e"><td class="yr">差異</td><td>0</td><td>1</td><td>-0.17</td><td>1</td><td>2</td><td>0.14</td><td>1</td><td>-1</td><td class="y">1.00</td><td>0</td><td>0</td><td>0.00</td><td>0</td><td>0</td><td>0.00</td><td>0</td><td>0</td><td>0.00</td><td>2</td><td>2</td><td>0.16</td></tr>

<tr><td class="n" rowspan="4">【仮称】ブルーム保育園</td><td class="k" rowspan="4"></td><td class="yr">2024</td><td></td><td></td><td></td><td></td><td></td><td></td><td></td><td></td><td></td><td></td><td></td><td></td><td></td><td></td><td></td><td></td><td></td><td></td><td></td><td></td><td></td></tr>
<tr><td class="yr">2025</td><td></td><td></td><td></td><td></td><td></td><td></td><td></td><td></td><td></td><td></td><td></td><td></td><td></td><td></td><td></td><td></td><td></td><td></td><td></td><td></td><td></td></tr>
<tr><td class="yr">2026</td><td>1</td><td>2</td><td>0.50</td><td>1</td><td>5</td><td>0.20</td><td>0</td><td>5</td><td>0.00</td><td>0</td><td>0</td><td>0.00</td><td>0</td><td>0</td><td>0.00</td><td>0</td><td>0</td><td>0.00</td><td>2</td><td>12</td><td>0.17</td></tr>
<tr class="e"><td class="yr">差異</td><td>1</td><td>2</td><td class="y">0.50</td><td>1</td><td>5</td><td>0.20</td><td>0</td><td>5</td><td>0.00</td><td>0</td><td>0</td><td>0.00</td><td>0</td><td>0</td><td>0.00</td><td>0</td><td>0</td><td>0.00</td><td>2</td><td>12</td><td>0.17</td></tr>

<tr><td class="n" rowspan="4">合計(旭区)</td><td class="k" rowspan="4">合計</td><td class="yr">2024</td><td class="g">105</td><td>124</td><td>0.85</td><td class="g">215</td><td>122</td><td>1.76</td><td class="g">91</td><td>64</td><td>1.42</td><td class="g">59</td><td>42</td><td>1.40</td><td>18</td><td>15</td><td>1.20</td><td>6</td><td>17</td><td>0.35</td><td class="g">494</td><td>384</td><td>1.29</td></tr>
<tr><td class="yr">2025</td><td>124</td><td>128</td><td>0.97</td><td class="g">227</td><td>116</td><td>1.96</td><td class="g">100</td><td>69</td><td>1.45</td><td class="g">61</td><td>31</td><td>1.97</td><td class="g">8</td><td>20</td><td>0.40</td><td>8</td><td>15</td><td>0.53</td><td class="g">528</td><td>379</td><td>1.39</td></tr>
<tr><td class="yr">2026</td><td class="g">124</td><td>123</td><td>1.01</td><td class="g">253</td><td>137</td><td>1.85</td><td class="g">110</td><td>77</td><td>1.43</td><td>69</td><td>43</td><td>1.60</td><td>14</td><td>16</td><td>0.88</td><td>3</td><td>18</td><td>0.17</td><td class="g">573</td><td>414</td><td>1.38</td></tr>
<tr class="e"><td class="yr">差異</td><td>0</td><td>-5</td><td>0.04</td><td>26</td><td>21</td><td>-0.11</td><td>10</td><td>8</td><td>-0.02</td><td>8</td><td>12</td><td class="b">-0.36</td><td>6</td><td>-4</td><td class="y">0.48</td><td>-5</td><td>3</td><td class="b">-0.37</td><td>45</td><td>35</td><td>-0.01</td></tr>
</table>
</body></html>
